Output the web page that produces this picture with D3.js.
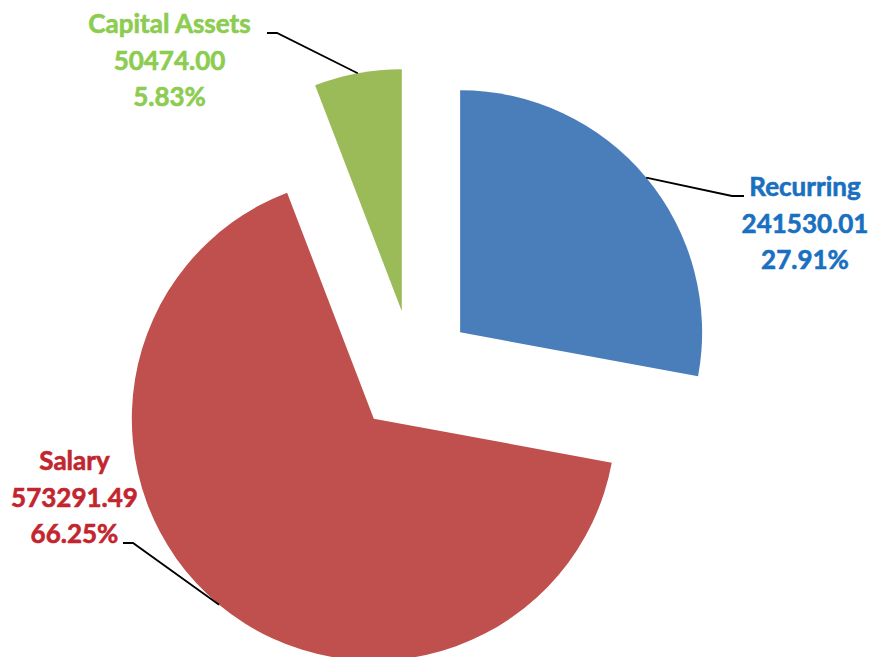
<!DOCTYPE html>
<html>
<head>
<meta charset="utf-8">
<script src="https://cdn.jsdelivr.net/npm/d3@7"></script>
<style>
  html, body { margin: 0; padding: 0; background: #ffffff; }
  svg { display: block; }
</style>
</head>
<body>
<svg id="chart"></svg>
<script>
// data
const categories = ["Recurring", "Salary", "Capital Assets"];
const values = [241530.01, 573291.49, 50474.00];

// look
const sliceColors = ["#4A7EBB", "#C0504D", "#9BBB59"];
const textColors = ["#1A70C0", "#C3252F", "#8CCC50"];

// where each label sits (first baseline) and its leader line
const labelLayout = [
    { x: 805, y: 196, kneeX: 732, endX: 744 },
    { x: 74.5, y: 470, lineY: 543, kneeX: 133, endX: 123 },
    { x: 169.5, y: 33, kneeX: 277, endX: 267 }
];

class PieChart {

    constructor( config, data ) {
        this.config = {
            parent: config.parent,
            width: config.width || 256,
            height: config.height || 256,
            cx: config.cx,
            cy: config.cy,
            radius: config.radius || 100,
            explode: config.explode || 0
        }
        this.data = data;
        this.init();
    }

    init() {
        let self = this;

        self.svg = d3.select( self.config.parent )
            .attr('width', self.config.width)
            .attr('height', self.config.height);

        self.chart = self.svg.append('g')
            .attr('transform', `translate(${self.config.cx}, ${self.config.cy})`);
    }

    render() {
        let self = this;
        const total = d3.sum(self.data, d => d.value);
        const fmtVal = d3.format('.2f');
        const fmtPct = d3.format('.2%');

        const pie = d3.pie()
            .sort(null)
            .value( d => d.value );

        const arc = d3.arc()
            .innerRadius(0)
            .outerRadius(self.config.radius);

        const arcs = pie(self.data);
        const mid = d => (d.startAngle + d.endAngle) / 2;
        const shift = d => [self.config.explode * Math.sin(mid(d)), -self.config.explode * Math.cos(mid(d))];

        self.chart.selectAll('path.slice')
            .data(arcs)
            .join('path')
            .attr('class', 'slice')
            .attr('transform', d => `translate(${shift(d)[0]}, ${shift(d)[1]})`)
            .attr('d', arc)
            .attr('fill', d => sliceColors[d.index]);

        // leader lines, in page coordinates
        const line = d3.line();
        self.svg.selectAll('path.leader')
            .data(arcs)
            .join('path')
            .attr('class', 'leader')
            .attr('fill', 'none')
            .attr('stroke', '#000')
            .attr('stroke-width', 1.8)
            .attr('d', d => {
                const s = shift(d);
                const r = self.config.radius;
                const p0 = [self.config.cx + s[0] + r * Math.sin(mid(d)),
                            self.config.cy + s[1] - r * Math.cos(mid(d))];
                const L = labelLayout[d.index];
                const ly = L.lineY !== undefined ? L.lineY : L.y;
                return line([p0, [L.kneeX, ly], [L.endX, ly]]);
            });

        const labels = self.svg.selectAll('text.label')
            .data(arcs)
            .join('text')
            .attr('class', 'label')
            .attr('text-anchor', 'middle')
            .attr('fill', d => textColors[d.index])
            .attr('stroke', d => textColors[d.index])
            .attr('stroke-width', 0.6)
            .style('font-family', 'Lato, "Open Sans", sans-serif')
            .style('font-weight', 'bold')
            .style('font-size', '26px');

        labels.selectAll('tspan')
            .data(d => [d.data.name, fmtVal(d.data.value), fmtPct(d.data.value / total)]
                .map((t, i) => ({ t, i, L: labelLayout[d.index] })))
            .join('tspan')
            .attr('x', d => d.L.x)
            .attr('y', d => d.L.y + d.i * 36.6)
            .text(d => d.t);
    }
}

const data = categories.map((c, i) => ({ name: c, value: values[i] }));

const chart = new PieChart({
    parent: '#chart',
    width: 873,
    height: 657,
    cx: 413,
    cy: 371.5,
    radius: 242,
    explode: 61.3
}, data);
chart.render();
</script>
</body>
</html>
